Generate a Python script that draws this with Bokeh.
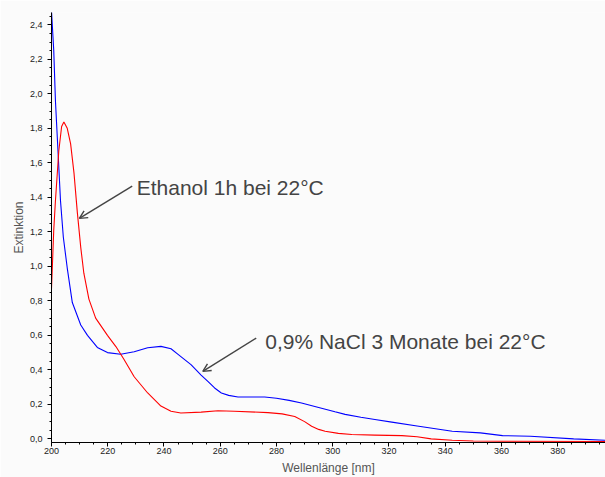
from bokeh.plotting import figure
from bokeh.models import (Range1d, SingleIntervalTicker, CustomJSTickFormatter,
                          Label, Arrow, OpenHead)
from bokeh.embed import file_html
from bokeh.resources import INLINE

# --- data ---
wl_nacl = [200, 200.8, 201.4, 202.3, 203.2, 204.2, 205.6, 207.4, 210.4, 212.8,
           216.3, 219.9, 224.6, 229.4, 234.2, 238.9, 242.5, 245, 249.6, 253.2,
           255.6, 258, 260.4, 263, 266.3, 270, 275.8, 280, 284.5, 288.9,
           295, 300.8, 304.4, 310, 315, 321, 330, 342.5, 352.5, 360.4,
           370.3, 385.7, 397]
ext_nacl = [2.48, 2.25, 1.96, 1.67, 1.38, 1.17, 0.99, 0.79, 0.66, 0.60,
            0.53, 0.50, 0.49, 0.505, 0.528, 0.536, 0.522, 0.49, 0.43, 0.37,
            0.333, 0.295, 0.266, 0.252, 0.243, 0.243, 0.243, 0.235, 0.223, 0.208,
            0.182, 0.157, 0.142, 0.125, 0.112, 0.097, 0.075, 0.044, 0.035, 0.019,
            0.015, 0.0, -0.008]

wl_eth = [200, 200.8, 201.4, 202.6, 203.6, 204.4, 205.6, 206.8, 208, 209.2,
          210.4, 211.5, 213.3, 215.7, 219.9, 222.9, 225.8, 229.4, 234.2, 238.9,
          242.5, 246, 253.2, 259.2, 265, 277, 282, 286.5, 290, 292.5,
          295, 297.3, 302, 306.8, 315, 324.6, 330, 335, 342.5, 350,
          360.4, 397]
ext_eth = [0.87, 1.21, 1.38, 1.67, 1.81, 1.837, 1.80, 1.71, 1.54, 1.31,
           1.11, 0.96, 0.81, 0.70, 0.60, 0.535, 0.46, 0.36, 0.266, 0.19,
           0.16, 0.15, 0.155, 0.163, 0.16, 0.152, 0.145, 0.13, 0.10, 0.073,
           0.055, 0.044, 0.032, 0.025, 0.022, 0.019, 0.012, 0.0, -0.008, -0.012,
           -0.014, -0.015]

label_eth = "Ethanol 1h bei 22°C"
label_nacl = "0,9% NaCl 3 Monate bei 22°C"
x_title = "Wellenlänge [nm]"
y_title = "Extinktion"

BG = "#fbfbfb"
FONT = "Liberation Sans"

p = figure(width=605, height=477, output_backend="svg", toolbar_location=None,
           x_range=Range1d(200, 397), y_range=Range1d(-0.021, 2.471),
           min_border_left=51, min_border_right=0, min_border_top=12,
           min_border_bottom=34)
p.background_fill_color = BG
p.border_fill_color = BG
p.outline_line_color = None
p.grid.visible = False

p.line(wl_nacl, ext_nacl, line_color="#0000ff", line_width=1.1)
p.line(wl_eth, ext_eth, line_color="#ff0000", line_width=1.1)

# axes
p.xaxis.ticker = SingleIntervalTicker(interval=20, num_minor_ticks=4)
p.yaxis.ticker = SingleIntervalTicker(interval=0.2, num_minor_ticks=4)
p.yaxis.formatter = CustomJSTickFormatter(code="return tick.toFixed(1).replace('.', ',');")
for ax in (p.xaxis[0], p.yaxis[0]):
    ax.major_tick_out = 4
    ax.major_tick_in = 0
    ax.minor_tick_out = 2
    ax.minor_tick_in = 0
    ax.axis_line_color = "black"
    ax.major_tick_line_color = "black"
    ax.minor_tick_line_color = "black"
    ax.major_label_text_font = FONT
    ax.major_label_text_font_size = "9px"
    ax.major_label_text_color = "#222222"
    ax.axis_label_text_font = FONT
    ax.axis_label_text_font_size = "12px"
    ax.axis_label_text_font_style = "normal"
    ax.axis_label_text_color = "#555555"

p.yaxis.major_label_standoff = 5
p.yaxis.axis_label = y_title
p.yaxis.axis_label_standoff = 1
p.xaxis.major_label_standoff = 1
p.xaxis.axis_label = x_title
p.xaxis.axis_label_standoff = 4

# annotations
p.add_layout(Label(x=230.3, y=1.458, text=label_eth, text_font=FONT,
                   text_font_size="21px", text_color="#444444",
                   text_baseline="alphabetic"))
p.add_layout(Label(x=276.0, y=0.563, text=label_nacl, text_font=FONT,
                   text_font_size="21px", text_color="#444444",
                   text_baseline="alphabetic"))
p.add_layout(Arrow(end=OpenHead(size=8, line_color="#444444", line_width=1.4),
                   x_start=228.7, y_start=1.465, x_end=209.9, y_end=1.278,
                   line_color="#444444", line_width=1.4))
p.add_layout(Arrow(end=OpenHead(size=8, line_color="#444444", line_width=1.4),
                   x_start=272.8, y_start=0.584, x_end=253.8, y_end=0.391,
                   line_color="#444444", line_width=1.4))

open("out.html", "w").write(file_html(p, INLINE))
